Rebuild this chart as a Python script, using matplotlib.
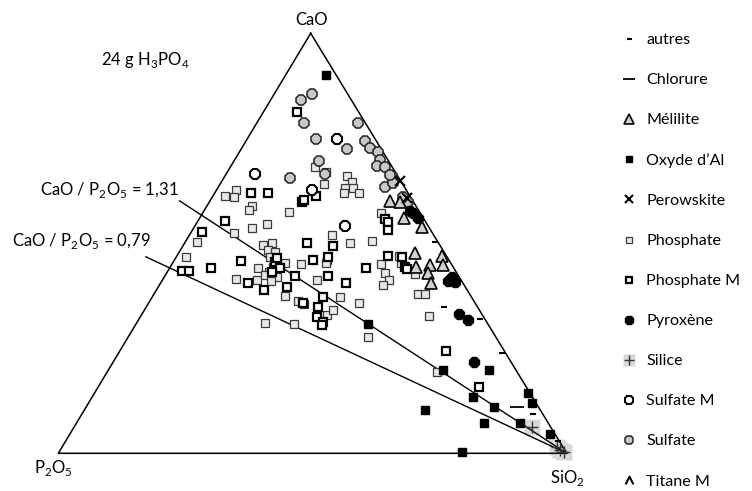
import numpy as np
import matplotlib.pyplot as plt
from matplotlib.path import Path

plt.rcParams['font.family'] = ['Lato', 'DejaVu Sans']

# compositions in %: CaO and SiO2, P2O5 is the rest
phosphate_cao = [68.2, 67.0, 64.1, 66.0, 64.7, 63.1, 61.9, 63.1, 61.9, 61.3, 62.7, 61.0, 59.0,
                 57.9, 57.5, 52.4, 53.6, 54.5, 50.2, 46.7, 41.4, 44.2, 41.3, 31.0, 30.7, 49.6,
                 50.1, 48.4, 48.0, 46.7, 45.4, 44.4, 43.2, 42.0, 42.5, 41.0, 45.0, 41.3, 37.5,
                 36.3, 35.5, 32.9, 46.0, 52.0, 50.1, 50.5, 45.2, 37.3, 35.9, 57.3, 45.0, 47.0,
                 45.2, 42.9, 41.3, 40.1, 42.6, 38.0, 38.0, 32.8, 34.1, 27.8, 19.4]
phosphate_sio2 = [16.6, 19.3, 20.5, 24.1, 25.6, 25.1, 25.5, 26.6, 28.4, 2.4, 3.8, 4.2, 8.9,
                  8.7, 16.8, 8.5, 11.5, 13.9, 2.4, 1.9, 14.4, 17.4, 18.6, 25.3, 31.1, 15.7,
                  17.1, 17.3, 18.8, 18.5, 22.0, 20.2, 19.9, 22.1, 19.6, 21.4, 25.3, 30.3, 26.0,
                  29.2, 30.7, 36.6, 30.0, 28.0, 32.5, 36.6, 30.2, 36.9, 41.4, 35.0, 41.1, 43.7,
                  44.9, 43.0, 44.6, 43.9, 49.0, 51.9, 53.3, 56.6, 37.2, 47.1, 64.9]

phosphate_m_cao = [81.3, 61.9, 61.9, 61.3, 59.9, 60.2, 52.6, 43.5, 43.3, 44.1, 45.9, 40.5, 39.0,
                   50.1, 42.2, 39.7, 34.9, 32.5, 31.3, 30.5, 37.3, 35.7, 49.4, 46.0, 46.7, 42.2,
                   44.2, 40.5, 55.7, 55.1, 53.2, 47.0, 44.4, 43.8, 46.8, 24.4, 15.7, 55.4, 45.5,
                   44.1, 43.2, 46.5]
phosphate_m_sio2 = [6.5, 10.6, 7.1, 20.2, 18.1, 18.4, 2.2, 2.7, 4.3, 8.2, 13.1, 17.3, 21.0,
                    24.1, 25.6, 25.2, 33.8, 34.7, 36.6, 36.7, 33.6, 30.5, 29.6, 27.2, 29.9, 32.0,
                    38.6, 36.5, 36.6, 37.5, 38.5, 41.6, 46.1, 46.9, 44.3, 64.1, 75.0, 5.3, 20.0,
                    21.7, 20.6, 19.9]

sulfate_cao = [85.5, 84.1, 78.6, 78.6, 74.8, 72.5, 74.3, 72.6, 71.8, 69.8, 68.4, 68.2, 66.0,
               63.5, 64.3, 59.9, 61.1, 69.5, 66.4, 65.6, 66.3]
sulfate_sio2 = [7.5, 6.0, 9.4, 19.9, 13.6, 20.7, 23.5, 25.3, 27.3, 28.6, 28.7, 30.4, 32.8,
                32.7, 34.0, 39.1, 37.5, 16.8, 19.5, 13.1, 32.3]

sulfate_m_cao = [74.8, 66.4, 62.7, 54.2]
sulfate_m_sio2 = [17.7, 5.7, 18.7, 29.5]

melilite_cao = [60.1, 59.9, 56.0, 54.0, 47.8, 46.9, 44.4, 44.8, 44.8, 43.0, 40.6]
melilite_sio2 = [35.4, 37.5, 40.1, 44.7, 46.5, 52.1, 48.4, 50.9, 53.5, 51.4, 53.1]

oxyde_cao = [90.0, 30.7, 19.8, 19.8, 13.3, 11.1, 10.2, 7.3, 14.3, 11.9, 4.6, 0.3, 7.1]
oxyde_sio2 = [7.9, 45.7, 65.9, 74.9, 75.0, 80.1, 67.1, 80.2, 85.3, 87.2, 94.5, 79.2, 87.2]

pyroxene_cao = [33.2, 31.7, 21.7, 42.0, 40.8, 41.0, 57.1, 56.0, 57.7]
pyroxene_sio2 = [62.4, 64.9, 71.0, 56.5, 57.8, 56.3, 41.5, 43.0, 40.5]

perowskite_cao = [64.8, 60.7]
perowskite_sio2 = [35.1, 38.4]

autres_cao = [34.8, 31.9, 23.8, 9.4, 3.0, 50.4]
autres_sio2 = [58.5, 67.1, 75.4, 88.8, 96.8, 49.1]

chlorure_cao = [11.1]
chlorure_sio2 = [84.7]

silice_cao = [6.3, 0.8, 1.5, 0.3]
silice_sio2 = [90.0, 98.3, 97.3, 99.4]

titane_m_cao = []
titane_m_sio2 = []

ratios = [1.31, 0.79]
ratio_labels = ['CaO / P$_{\\mathregular{2}}$O$_{\\mathregular{5}}$ = 1,31',
                'CaO / P$_{\\mathregular{2}}$O$_{\\mathregular{5}}$ = 0,79']

# triangle corners (figure pixels)
corner_cao = (310.7, 33.3)
corner_p2o5 = (58.3, 453.3)
corner_sio2 = (566.7, 453.3)


def tern(cao, sio2):
    c = np.asarray(cao, float) / 100
    s = np.asarray(sio2, float) / 100
    p = 1 - c - s
    x = p * corner_p2o5[0] + s * corner_sio2[0] + c * corner_cao[0]
    y = p * corner_p2o5[1] + s * corner_sio2[1] + c * corner_cao[1]
    return x, y


fig = plt.figure(figsize=(7.52, 4.91), dpi=100)
ax = fig.add_axes([0, 0, 1, 1])
ax.set_xlim(0, 752)
ax.set_ylim(491, 0)
ax.axis('off')

# frame
tx, ty = tern([100, 0, 0, 100], [0, 0, 100, 0])
ax.plot(tx, ty, color='black', lw=1.1, zorder=2)

# CaO/P2O5 lines from the SiO2 corner, a bit past the P2O5-CaO side
ext = 1.06
for r in ratios:
    c_edge = 100 * r / (1 + r)
    lx, ly = tern([0, ext * c_edge], [100, 100 * (1 - ext)])
    ax.plot(lx, ly, color='black', lw=1.0, zorder=2)

h = {}
x, y = tern(silice_cao, silice_sio2)
h_sil_bg, = ax.plot(x, y, 's', ms=11, mfc='#d9d9d9', mec='none', zorder=1)
h_sil_plus, = ax.plot(x, y, '+', ms=9, mew=1.0, color='#333333', zorder=3)
h['Silice'] = (h_sil_bg, h_sil_plus)

x, y = tern(phosphate_cao, phosphate_sio2)
h['Phosphate'], = ax.plot(x, y, 's', ms=6, mfc='#e8e8e8', mec='#3a3a3a', mew=0.9, zorder=3)
x, y = tern(phosphate_m_cao, phosphate_m_sio2)
h['Phosphate M'], = ax.plot(x, y, 's', ms=6, mfc='white', mec='black', mew=1.6, zorder=3)
x, y = tern(sulfate_cao, sulfate_sio2)
h['Sulfate'], = ax.plot(x, y, '8', ms=7.5, mfc='#c8c8c8', mec='#222222', mew=1.1, zorder=3)
x, y = tern(sulfate_m_cao, sulfate_m_sio2)
h['Sulfate M'], = ax.plot(x, y, '8', ms=7.5, mfc='white', mec='black', mew=1.5, zorder=3)
x, y = tern(melilite_cao, melilite_sio2)
h['Mélilite'], = ax.plot(x, y, '^', ms=8.5, mfc='#d0d0d0', mec='black', mew=1.2, zorder=3)
x, y = tern(oxyde_cao, oxyde_sio2)
h['Oxyde d\u2019Al'], = ax.plot(x, y, 's', ms=6, color='black', zorder=4)
x, y = tern(pyroxene_cao, pyroxene_sio2)
h['Pyroxène'], = ax.plot(x, y, '8', ms=7.5, color='black', zorder=4)
x, y = tern(perowskite_cao, perowskite_sio2)
h['Perowskite'], = ax.plot(x, y, 'x', ms=6.5, mew=1.5, color='black', zorder=4)
x, y = tern(autres_cao, autres_sio2)
h['autres'], = ax.plot(x, y, '_', ms=4.5, mew=1.5, color='black', zorder=4)
x, y = tern(chlorure_cao, chlorure_sio2)
h['Chlorure'], = ax.plot(x, y, '_', ms=10, mew=1.3, color='black', zorder=4)
caret = Path([(-1, -1), (0, 1), (1, -1)], [Path.MOVETO, Path.LINETO, Path.LINETO])
h['Titane M'], = ax.plot(titane_m_cao, titane_m_sio2, ls='none', marker=caret, ms=7,
                         mfc='none', mec='black', mew=1.5, zorder=4)

order = ['autres', 'Chlorure', 'Mélilite', 'Oxyde d\u2019Al', 'Perowskite', 'Phosphate',
         'Phosphate M', 'Pyroxène', 'Silice', 'Sulfate M', 'Sulfate', 'Titane M']
fig.legend([h[k] for k in order], order, loc='upper left',
           bbox_to_anchor=(622 / 752, 1 - 33 / 491), frameon=False, fontsize=11.6,
           handlelength=0.9, handletextpad=0.6, labelspacing=1.60, borderpad=0,
           borderaxespad=0, markerscale=0.8)

# labels
ax.text(311, 20, 'CaO', ha='center', va='center', fontsize=12)
ax.text(53, 468, 'P$_{\\mathregular{2}}$O$_{\\mathregular{5}}$', ha='center', va='center', fontsize=12)
ax.text(567, 478, 'SiO$_{\\mathregular{2}}$', ha='center', va='center', fontsize=12)
ax.text(101, 60, '24 g H$_{\\mathregular{3}}$PO$_{\\mathregular{4}}$', ha='left', va='center', fontsize=12)
ax.text(40, 190, ratio_labels[0], ha='left', va='center', fontsize=12)
ax.text(12, 241, ratio_labels[1], ha='left', va='center', fontsize=12)

fig.savefig('out.png', dpi=100)
